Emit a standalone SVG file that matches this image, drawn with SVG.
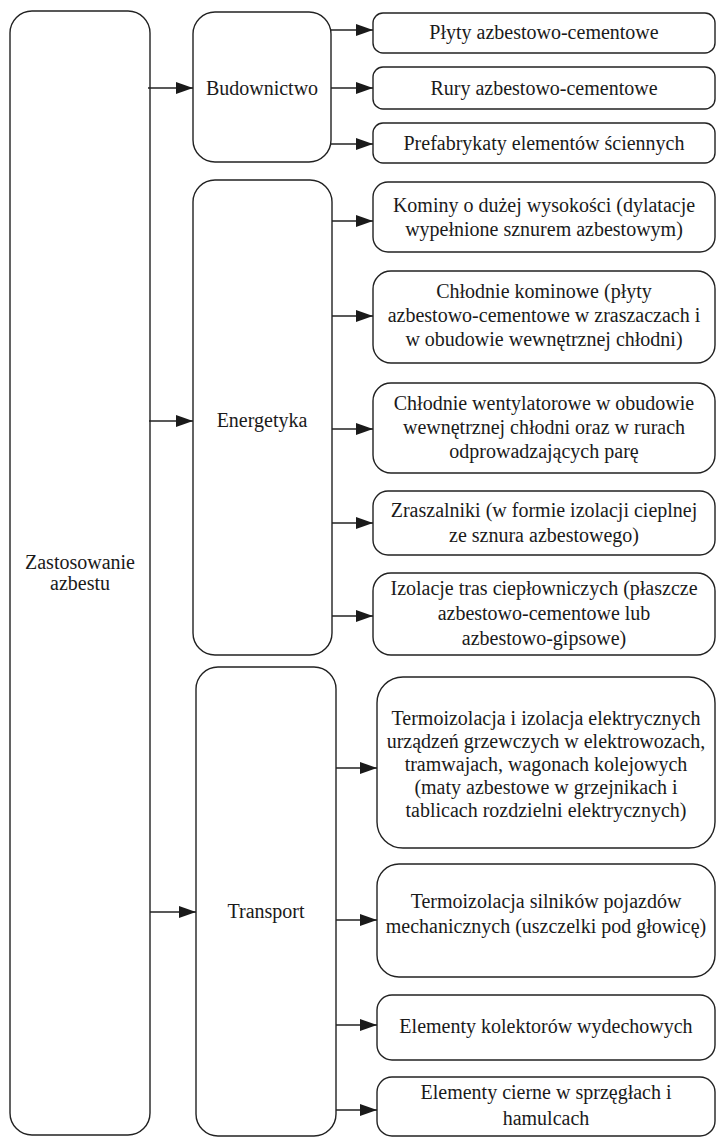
<svg xmlns="http://www.w3.org/2000/svg" width="716" height="1138" viewBox="0 0 716 1138">
<defs>
<marker id="ah" markerWidth="17" markerHeight="12" refX="17" refY="6" orient="auto" markerUnits="userSpaceOnUse">
<path d="M0,0 L17,6 L0,12 Z" fill="#1a1a1a"/>
</marker>
<style>
.box{fill:#fff;stroke:#222;stroke-width:1.4}
.t{font-family:'Liberation Serif','DejaVu Serif',serif;font-size:20px;fill:#1a1a1a;text-anchor:middle}
.c{stroke:#222;stroke-width:1.4;fill:none;marker-end:url(#ah)}
</style>
</defs>
<rect width="716" height="1138" fill="#fff"/>
<g font-family="Liberation Serif, DejaVu Serif, serif">
<g id="root"><rect class="box" x="10" y="11" width="140" height="1124" rx="22"/>
<text class="t" x="80" y="569">Zastosowanie</text><text class="t" x="80" y="590">azbestu</text></g>

<g id="budownictwo"><rect class="box" x="193" y="12" width="138" height="150" rx="22"/>
<text class="t" x="262" y="95">Budownictwo</text></g>
<g id="energetyka"><rect class="box" x="193" y="180" width="139" height="475" rx="22"/>
<text class="t" x="262" y="427">Energetyka</text></g>
<g id="transport"><rect class="box" x="196" y="667" width="140" height="469" rx="22"/>
<text class="t" x="266" y="918">Transport</text></g>

<g id="b1"><rect class="box" x="373" y="13" width="342" height="40" rx="10"/>
<text class="t" x="544" y="39">Płyty azbestowo-cementowe</text></g>
<g id="b2"><rect class="box" x="373" y="67" width="342" height="42" rx="10"/>
<text class="t" x="544" y="95">Rury azbestowo-cementowe</text></g>
<g id="b3"><rect class="box" x="373" y="123" width="342" height="40" rx="10"/>
<text class="t" x="544" y="150">Prefabrykaty elementów ściennych</text></g>

<g id="e1"><rect class="box" x="373" y="182" width="342" height="70" rx="15"/>
<text class="t" x="544" y="212">Kominy o dużej wysokości (dylatacje</text>
<text class="t" x="544" y="236">wypełnione sznurem azbestowym)</text></g>
<g id="e2"><rect class="box" x="373" y="271" width="342" height="92" rx="18"/>
<text class="t" x="544" y="298">Chłodnie kominowe (płyty</text>
<text class="t" x="544" y="322">azbestowo-cementowe w zraszaczach i</text>
<text class="t" x="544" y="346">w obudowie wewnętrznej chłodni)</text></g>
<g id="e3"><rect class="box" x="373" y="383" width="342" height="90" rx="18"/>
<text class="t" x="544" y="410">Chłodnie wentylatorowe w obudowie</text>
<text class="t" x="544" y="434">wewnętrznej chłodni oraz w rurach</text>
<text class="t" x="544" y="458">odprowadzających parę</text></g>
<g id="e4"><rect class="box" x="373" y="491" width="342" height="64" rx="15"/>
<text class="t" x="544" y="517">Zraszalniki (w formie izolacji cieplnej</text>
<text class="t" x="544" y="542">ze sznura azbestowego)</text></g>
<g id="e5"><rect class="box" x="373" y="573" width="342" height="82" rx="18"/>
<text class="t" x="544" y="595">Izolacje tras ciepłowniczych (płaszcze</text>
<text class="t" x="544" y="620">azbestowo-cementowe lub</text>
<text class="t" x="544" y="645">azbestowo-gipsowe)</text></g>

<g id="t1"><rect class="box" x="377" y="677" width="338" height="171" rx="26"/>
<text class="t" x="546" y="725">Termoizolacja i izolacja elektrycznych</text>
<text class="t" x="546" y="748">urządzeń grzewczych w elektrowozach,</text>
<text class="t" x="546" y="771">tramwajach, wagonach kolejowych</text>
<text class="t" x="546" y="794">(maty azbestowe w grzejnikach i</text>
<text class="t" x="546" y="817">tablicach rozdzielni elektrycznych)</text></g>
<g id="t2"><rect class="box" x="377" y="864" width="338" height="113" rx="22"/>
<text class="t" x="546" y="908">Termoizolacja silników pojazdów</text>
<text class="t" x="546" y="933">mechanicznych (uszczelki pod głowicę)</text></g>
<g id="t3"><rect class="box" x="377" y="995" width="338" height="65" rx="15"/>
<text class="t" x="546" y="1033">Elementy kolektorów wydechowych</text></g>
<g id="t4"><rect class="box" x="377" y="1077" width="338" height="59" rx="15"/>
<text class="t" x="546" y="1099">Elementy cierne w sprzęgłach i</text>
<text class="t" x="546" y="1125">hamulcach</text></g>
</g>
<g id="connectors">
<line class="c" x1="148" y1="88" x2="193" y2="88"/>
<line class="c" x1="149" y1="421" x2="193" y2="421"/>
<line class="c" x1="150" y1="912" x2="196" y2="912"/>
<line class="c" x1="331" y1="30" x2="373" y2="30"/>
<line class="c" x1="331" y1="88" x2="373" y2="88"/>
<line class="c" x1="331" y1="144" x2="373" y2="144"/>
<line class="c" x1="332" y1="221" x2="373" y2="221"/>
<line class="c" x1="332" y1="316" x2="373" y2="316"/>
<line class="c" x1="332" y1="429" x2="373" y2="429"/>
<line class="c" x1="332" y1="523" x2="373" y2="523"/>
<line class="c" x1="332" y1="616" x2="373" y2="616"/>
<line class="c" x1="336" y1="768" x2="377" y2="768"/>
<line class="c" x1="336" y1="920" x2="377" y2="920"/>
<line class="c" x1="336" y1="1025" x2="377" y2="1025"/>
<line class="c" x1="336" y1="1110" x2="377" y2="1110"/>
</g>
</svg>
